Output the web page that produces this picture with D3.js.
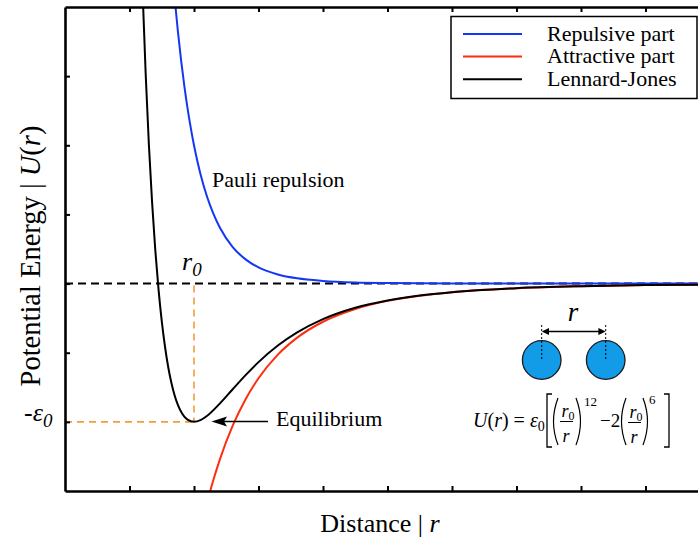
<!DOCTYPE html>
<html>
<head>
<meta charset="utf-8">
<script src="https://cdn.jsdelivr.net/npm/d3@7"></script>
<style>
  html, body { margin: 0; padding: 0; background: #fff; }
  svg { display: block; font-family: "Liberation Serif", "Times New Roman", serif; }
</style>
</head>
<body>
<svg id="chart" width="698" height="543"></svg>
<script>
// ---- data (distance in tick units, energy in units of epsilon0) ----
const xTicks = [1, 2, 3, 4, 5, 6, 7, 8, 9];
const yTicks = [-1, -0.5, 0, 0.5, 1, 1.5];
const r0Pos = 2;          // equilibrium distance
const eps0 = -1;          // well depth

const ljDistance = [1.2, 1.25, 1.3, 1.35, 1.4, 1.45, 1.5, 1.55, 1.6, 1.65, 1.7, 1.75, 1.8, 1.85, 1.9, 2.0, 2.1, 2.2, 2.4, 2.6, 2.8, 3.0, 3.3, 3.6, 4.0, 4.5, 5.0, 5.5, 6.0, 7.0, 8.0, 9.0, 10.0, 10.5];
const ljEnergy   = [2.149, 1.525, 1.009, 0.589, 0.241, -0.042, -0.272, -0.455, -0.603, -0.719, -0.809, -0.877, -0.927, -0.962, -0.984, -1.0, -0.988, -0.958, -0.868, -0.764, -0.662, -0.568, -0.448, -0.353, -0.257, -0.175, -0.122, -0.086, -0.062, -0.033, -0.019, -0.011, -0.007, -0.006];

const repDistance = [1.6, 1.65, 1.7, 1.75, 1.8, 1.85, 1.9, 1.95, 2.0, 2.05, 2.1, 2.2, 2.3, 2.4, 2.6, 2.8, 3.0, 3.3, 3.6, 4.0, 4.5, 5.0, 5.5, 6.0, 7.0, 8.0, 9.0, 10.0, 10.5];
const repEnergy   = [2.657, 2.340, 2.064, 1.825, 1.614, 1.429, 1.267, 1.126, 1.0, 0.890, 0.793, 0.631, 0.505, 0.405, 0.264, 0.175, 0.117, 0.066, 0.038, 0.019, 0.008, 0.004, 0.002, 0.001, 0.0003, 0.0001, 0, 0, 0];

const attDistance = [2.1, 2.2, 2.3, 2.4, 2.6, 2.8, 3.0, 3.3, 3.6, 4.0, 4.5, 5.0, 5.5, 6.0, 7.0, 8.0, 9.0, 10.0, 10.5];
const attEnergy   = [-1.781, -1.589, -1.421, -1.273, -1.028, -0.836, -0.685, -0.514, -0.391, -0.276, -0.184, -0.125, -0.088, -0.062, -0.034, -0.019, -0.011, -0.007, -0.006];

const legendLabels = ["Repulsive part", "Attractive part", "Lennard-Jones"];
const legendColors = ["#1437f5", "#ff2d0f", "#000000"];

// ---- layout ----
const svg = d3.select("#chart");
const pL = 65, pT = 7, pR = 710, pB = 491;
const x = d3.scaleLinear().domain([0, 10]).range([pL, pR]);
const y = d3.scaleLinear().domain([-1.5, 2]).range([pB, pT]);

svg.append("defs").append("clipPath").attr("id", "plotclip")
  .append("rect").attr("x", pL).attr("y", pT).attr("width", pR - pL).attr("height", pB - pT);

// zero line (dashed)
svg.append("line")
  .attr("x1", pL).attr("x2", pR).attr("y1", y(0)).attr("y2", y(0))
  .attr("stroke", "#000").attr("stroke-width", 2).attr("stroke-dasharray", "8,5");

// orange guides to the minimum
const orange = "#f39c3c";
svg.append("line")
  .attr("x1", x(r0Pos)).attr("x2", x(r0Pos)).attr("y1", y(0) + 2).attr("y2", y(eps0))
  .attr("stroke", orange).attr("stroke-width", 1.6).attr("stroke-dasharray", "7,5");
svg.append("line")
  .attr("x1", pL).attr("x2", x(r0Pos)).attr("y1", y(eps0)).attr("y2", y(eps0))
  .attr("stroke", orange).attr("stroke-width", 1.6).attr("stroke-dasharray", "7,5");

// curves
const line = d3.line().x(d => x(d[0])).y(d => y(d[1])).curve(d3.curveMonotoneX);
const curves = svg.append("g").attr("clip-path", "url(#plotclip)");
curves.append("path").datum(d3.zip(repDistance, repEnergy))
  .attr("d", line).attr("fill", "none").attr("stroke", legendColors[0]).attr("stroke-width", 2);
curves.append("path").datum(d3.zip(attDistance, attEnergy))
  .attr("d", line).attr("fill", "none").attr("stroke", legendColors[1]).attr("stroke-width", 2);
curves.append("path").datum(d3.zip(ljDistance, ljEnergy))
  .attr("d", line).attr("fill", "none").attr("stroke", legendColors[2]).attr("stroke-width", 2);

// axes (inward ticks, no labels)
function styleAxis(g) {
  g.select(".domain").attr("stroke", "#000").attr("stroke-width", 2.6);
  g.selectAll(".tick line").attr("stroke", "#000").attr("stroke-width", 2);
}
svg.append("g").attr("transform", `translate(0,${pB})`)
  .call(d3.axisBottom(x).tickValues(xTicks).tickSize(-5).tickSizeOuter(0).tickFormat(""))
  .call(styleAxis);
svg.append("g").attr("transform", `translate(0,${pT})`)
  .call(d3.axisTop(x).tickValues(xTicks).tickSize(-5).tickSizeOuter(0).tickFormat(""))
  .call(styleAxis);
svg.append("g").attr("transform", `translate(${pL},0)`)
  .call(d3.axisLeft(y).tickValues(yTicks).tickSize(-5).tickSizeOuter(0).tickFormat(""))
  .call(styleAxis);

// axis titles
svg.append("text")
  .attr("x", 380).attr("y", 532).attr("text-anchor", "middle")
  .attr("font-size", 26)
  .html('Distance | <tspan font-style="italic">r</tspan>');
svg.append("text")
  .attr("transform", "translate(40,256) rotate(-90)").attr("text-anchor", "middle")
  .attr("font-size", 28.5)
  .html('Potential Energy | <tspan font-style="italic">U</tspan>(<tspan font-style="italic">r</tspan>)');

// r0 and -eps0 labels
svg.append("text").attr("x", 182).attr("y", 270).attr("font-size", 26).attr("font-style", "italic")
  .html('r<tspan font-size="19" dy="6">0</tspan>');
svg.append("text").attr("x", 24).attr("y", 421).attr("font-size", 26).attr("font-style", "italic")
  .html('-ε<tspan font-size="19" dy="6">0</tspan>');

// annotations
svg.append("text").attr("x", 212).attr("y", 187).attr("font-size", 22).text("Pauli repulsion");
svg.append("text").attr("x", 276).attr("y", 426).attr("font-size", 22).text("Equilibrium");
svg.append("line").attr("x1", 222).attr("x2", 268).attr("y1", 421.5).attr("y2", 421.5)
  .attr("stroke", "#000").attr("stroke-width", 1.6);
svg.append("path").attr("d", "M211.5,421.5 L227,416.5 L224,421.5 L227,426.5 Z").attr("fill", "#000");

// legend
const lg = svg.append("g");
lg.append("rect").attr("x", 451).attr("y", 16.5).attr("width", 246).attr("height", 82)
  .attr("fill", "#fff").attr("stroke", "#000").attr("stroke-width", 1.5);
legendLabels.forEach((lab, i) => {
  const yy = 34 + i * 22.6;
  lg.append("line").attr("x1", 463).attr("x2", 522).attr("y1", yy).attr("y2", yy)
    .attr("stroke", legendColors[i]).attr("stroke-width", 2);
  lg.append("text").attr("x", 547).attr("y", yy + 6.5).attr("font-size", 22).text(lab);
});

// molecule sketch
const mol = svg.append("g");
[541.7, 605.7].forEach(cx => {
  mol.append("circle").attr("cx", cx).attr("cy", 360).attr("r", 19.3)
    .attr("fill", "#129be7").attr("stroke", "#1a1a1a").attr("stroke-width", 1.3);
  mol.append("line").attr("x1", cx).attr("x2", cx).attr("y1", 325).attr("y2", 360)
    .attr("stroke", "#000").attr("stroke-width", 1).attr("stroke-dasharray", "2,2");
});
mol.append("line").attr("x1", 546).attr("x2", 601).attr("y1", 331.5).attr("y2", 331.5)
  .attr("stroke", "#000").attr("stroke-width", 1.3);
mol.append("path").attr("d", "M541.7,331.5 L549,328 L549,335 Z").attr("fill", "#000");
mol.append("path").attr("d", "M605.7,331.5 L598.4,328 L598.4,335 Z").attr("fill", "#000");
mol.append("text").attr("x", 573).attr("y", 321).attr("text-anchor", "middle")
  .attr("font-size", 27).attr("font-style", "italic").text("r");

// formula
const f = svg.append("g").attr("font-size", 20);
f.append("text").attr("x", 473).attr("y", 427)
  .html('<tspan font-style="italic">U</tspan>(<tspan font-style="italic">r</tspan>) = <tspan font-style="italic">ε</tspan><tspan font-size="14" dy="4">0</tspan>');
const bw = 1.3;
f.append("path").attr("d", "M552,394 L547,394 L547,447 L552,447").attr("fill", "none").attr("stroke", "#000").attr("stroke-width", bw);
f.append("path").attr("d", "M664,394 L669,394 L669,447 L664,447").attr("fill", "none").attr("stroke", "#000").attr("stroke-width", bw);
function paren(x0, dir) {
  f.append("path").attr("d", `M${x0},398 Q${x0 - dir * 9},421.5 ${x0},445`)
    .attr("fill", "none").attr("stroke", "#000").attr("stroke-width", 1.2);
}
function frac(cx, barY) {
  f.append("line").attr("x1", cx - 6.5).attr("x2", cx + 6.5).attr("y1", barY).attr("y2", barY)
    .attr("stroke", "#000").attr("stroke-width", 1);
  f.append("text").attr("x", cx - 5).attr("y", barY - 5).attr("font-size", 18)
    .html('<tspan font-style="italic">r</tspan><tspan font-size="12" dy="3">0</tspan>');
  f.append("text").attr("x", cx - 0.5).attr("y", barY + 20).attr("font-size", 18).attr("text-anchor", "middle")
    .attr("font-style", "italic").text("r");
}
paren(558, 1); frac(566.5, 421.5); paren(576, -1);
f.append("text").attr("x", 584).attr("y", 406).attr("font-size", 13).text("12");
f.append("text").attr("x", 600).attr("y", 427).attr("font-size", 19).text("−2");
paren(626, 1); frac(634.5, 422.5); paren(643, -1);
f.append("text").attr("x", 649).attr("y", 404).attr("font-size", 13).text("6");
</script>
</body>
</html>
